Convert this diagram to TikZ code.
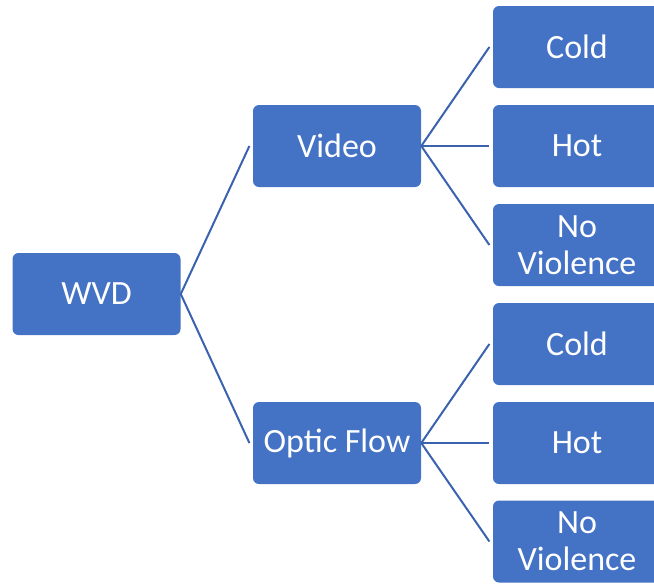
\documentclass[tikz,border=0pt]{standalone}
\usepackage{fontspec}
\setmainfont{Carlito}
\usepackage{tikz}

\definecolor{boxblue}{HTML}{4472C4}
\definecolor{lineblue}{HTML}{3A62AE}

\begin{document}
\begin{tikzpicture}[x=0.75pt, y=-0.75pt,
        box/.style={rectangle, rounded corners=4.5pt, fill=boxblue, text=white,
            minimum width=126pt, minimum height=61.5pt, inner sep=0pt,
            align=center, font=\fontsize{25.5}{28}\selectfont},
        link/.style={draw=lineblue, line width=1.5pt}]
        \useasboundingbox (0,0) rectangle (654,583);
        \clip (0,0) rectangle (654,583);

        \node[box] (wvd) at (96.5,294) {WVD};
        \node[box] (video) at (337,146) {Video};
        \node[box] (flow) at (337,443) {Optic Flow};

        \node[box] (vcold) at (577,47) {Cold};
        \node[box] (vhot) at (577,146) {Hot};
        \node[box] (vnone) at (577,245) {No\\Violence};
        \node[box] (fcold) at (577,344) {Cold};
        \node[box] (fhot) at (577,443) {Hot};
        \node[box] (fnone) at (577,541.5) {No\\Violence};

        \draw[link] (wvd.east) -- ([xshift=-2.5pt]video.west);
        \draw[link] (wvd.east) -- ([xshift=-2.5pt]flow.west);

        \draw[link] (video.east) -- ([xshift=-2.5pt]vcold.west);
        \draw[link] (video.east) -- ([xshift=-2.5pt]vhot.west);
        \draw[link] (video.east) -- ([xshift=-2.5pt]vnone.west);

        \draw[link] (flow.east) -- ([xshift=-2.5pt]fcold.west);
        \draw[link] (flow.east) -- ([xshift=-2.5pt]fhot.west);
        \draw[link] (flow.east) -- ([xshift=-2.5pt]fnone.west);
    \end{tikzpicture}
\end{document}
